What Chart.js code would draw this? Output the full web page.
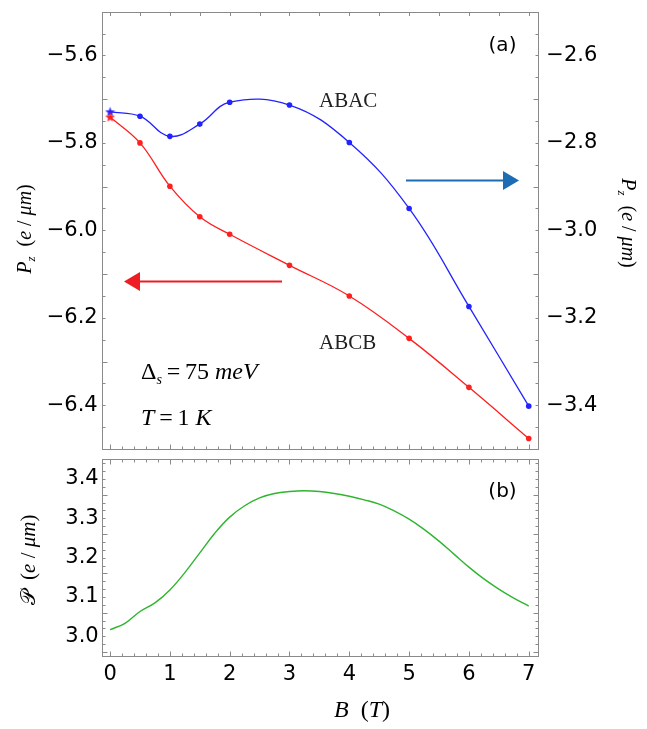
<!DOCTYPE html>
<html>
<head>
<meta charset="utf-8">
<script src="https://cdn.jsdelivr.net/npm/chart.js@4.4.1/dist/chart.umd.min.js"></script>
<style>
  html, body { margin: 0; padding: 0; background: #fff; }
  #wrap { position: relative; width: 647px; height: 729px; }
  canvas { position: absolute; left: 0; }
</style>
</head>
<body>
<div id="wrap">
  <canvas id="topChart" width="647" height="453" style="top:0"></canvas>
  <canvas id="bottomChart" width="647" height="276" style="top:453px"></canvas>
</div>
<script>
// magnetic field points where P_z was computed
const fieldB = [0, 0.5, 1, 1.5, 2, 3, 4, 5, 6, 7];
const pzABCB = [-5.741, -5.800, -5.899, -5.969, -6.009, -6.080, -6.150, -6.247, -6.359, -6.476];
const pzABAC = [-2.729, -2.739, -2.785, -2.757, -2.707, -2.7135, -2.799, -2.950, -3.174, -3.402];

// lower panel curve
const curveB = [0, 0.25, 0.5, 0.75, 1, 1.25, 1.5, 1.75, 2, 2.25, 2.5, 2.75, 3, 3.25, 3.5,
  3.75, 4, 4.25, 4.5, 4.75, 5, 5.25, 5.5, 5.75, 6, 6.25, 6.5, 6.75, 7];
const polTotal = [3.017, 3.033, 3.063, 3.085, 3.118, 3.162, 3.212, 3.262, 3.303, 3.332, 3.352,
  3.363, 3.368, 3.370, 3.368, 3.363, 3.356, 3.347, 3.336, 3.319, 3.298, 3.272, 3.242, 3.209,
  3.176, 3.146, 3.120, 3.097, 3.077];

const leftTicks = [-6.4, -6.2, -6.0, -5.8, -5.6];
const rightTicks = [-3.4, -3.2, -3.0, -2.8, -2.6];
const lowerTicks = [3.0, 3.1, 3.2, 3.3, 3.4];
const fieldTicks = [0, 1, 2, 3, 4, 5, 6, 7];

const RED = "#ff1f1f";
const BLUE = "#2323ff";
const GREEN = "#2fb52f";
const FRAME = "#8a8a8a";
const SERIF = '"Liberation Serif", "DejaVu Serif", serif';
const SANS = '"DejaVu Sans", "Liberation Sans", sans-serif';
const tickFont = { family: SANS, size: 21 };

function fmt(v) {
  return (v < 0 ? "\u2212" : "") + Math.abs(v).toFixed(1);
}

function starImage(color) {
  const c = document.createElement("canvas");
  c.width = 11;
  c.height = 11;
  const g = c.getContext("2d");
  g.fillStyle = color;
  g.beginPath();
  for (let i = 0; i < 10; i++) {
    const r = i % 2 ? 2.1 : 5.2;
    const a = -Math.PI / 2 + i * Math.PI / 5;
    g.lineTo(5.5 + r * Math.cos(a), 5.8 + r * Math.sin(a));
  }
  g.closePath();
  g.fill();
  return c;
}

function pts(xs, ys) {
  return xs.map((x, i) => ({ x: x, y: ys[i] }));
}

// fixed axis box, no extra room for edge labels
function fixWidth(w) {
  return (s) => { s.width = w; s.paddingTop = 0; s.paddingBottom = 0; };
}
function fixHeight(h) {
  return (s) => { s.height = h; s.paddingLeft = 0; s.paddingRight = 0; };
}

// tick list [value, length] with inward marks
function tickList(min, max, step, majorEvery, majorLen, minorLen) {
  const out = [];
  const n = Math.round((max - min) / step);
  for (let i = 0; i <= n; i++) {
    out.push([min + i * step, i % majorEvery === 0 ? majorLen : minorLen]);
  }
  return out;
}

function richText(ctx, parts, x, y, align) {
  let w = 0;
  parts.forEach((p) => { ctx.font = p[1]; w += ctx.measureText(p[0]).width; });
  let cx = align === "center" ? x - w / 2 : x;
  parts.forEach((p) => {
    ctx.font = p[1];
    ctx.fillText(p[0], cx, y + (p[2] || 0));
    cx += ctx.measureText(p[0]).width;
  });
}

function drawFrame(chart, spec) {
  const { ctx, chartArea: a, scales } = chart;
  ctx.save();
  ctx.strokeStyle = FRAME;
  ctx.lineWidth = 1;
  const L = Math.round(a.left) + 0.5, R = Math.round(a.right) + 0.5;
  const T = Math.round(a.top) + 0.5, B = Math.round(a.bottom) + 0.5;
  ctx.strokeRect(L, T, R - L, B - T);
  ctx.beginPath();
  spec.bottom.forEach(([v, len]) => {
    const p = Math.round(scales.x.getPixelForValue(v)) + 0.5;
    ctx.moveTo(p, B); ctx.lineTo(p, B - len);
  });
  spec.top.forEach(([v, len]) => {
    const p = Math.round(scales.x.getPixelForValue(v)) + 0.5;
    ctx.moveTo(p, T); ctx.lineTo(p, T + len);
  });
  spec.left.forEach(([v, len]) => {
    const p = Math.round(scales.y.getPixelForValue(v)) + 0.5;
    ctx.moveTo(L, p); ctx.lineTo(L + len, p);
  });
  spec.right.forEach(([v, len]) => {
    const p = Math.round(scales[spec.rightScale].getPixelForValue(v)) + 0.5;
    ctx.moveTo(R, p); ctx.lineTo(R - len, p);
  });
  ctx.stroke();
  ctx.restore();
}

function arrow(ctx, x1, x2, y, color) {
  const dir = Math.sign(x2 - x1);
  ctx.save();
  ctx.strokeStyle = color;
  ctx.fillStyle = color;
  ctx.lineWidth = 2;
  ctx.beginPath();
  ctx.moveTo(x1, y);
  ctx.lineTo(x2 - dir * 14, y);
  ctx.stroke();
  ctx.beginPath();
  ctx.moveTo(x2, y);
  ctx.lineTo(x2 - dir * 16, y - 9.5);
  ctx.lineTo(x2 - dir * 16, y + 9.5);
  ctx.closePath();
  ctx.fill();
  ctx.restore();
}

const topDecor = {
  id: "topDecor",
  afterDraw(chart) {
    drawFrame(chart, {
      bottom: tickList(0, 7, 0.2, 5, 5, 3),
      top: tickList(0, 7, 0.5, 1, 3.5, 3.5),
      left: tickList(-6.5, -5.5, 0.05, 4, 5, 3).filter((t) => t[0] > -6.49 && t[0] < -5.51),
      right: tickList(-3.5, -2.5, 0.05, 4, 5, 3).filter((t) => t[0] > -3.49 && t[0] < -2.51),
      rightScale: "y2",
    });
    const ctx = chart.ctx;
    ctx.save();
    ctx.fillStyle = "#000";
    ctx.textBaseline = "alphabetic";
    ctx.textAlign = "left";

    // axis titles
    const it = "italic 20px " + SERIF, up = "20px " + SERIF, sub = "italic 13px " + SERIF;
    const pz = [["P", it], ["z", sub, 4], ["  (", up], ["e", it], [" / ", up], ["\u03bcm", it], [")", up]];
    ctx.save();
    ctx.translate(24, 229);
    ctx.rotate(-Math.PI / 2);
    richText(ctx, pz, 0, 7, "center");
    ctx.restore();
    ctx.save();
    ctx.translate(629, 223);
    ctx.rotate(Math.PI / 2);
    richText(ctx, pz, 0, 7, "center");
    ctx.restore();

    // labels
    ctx.font = "20px " + SANS;
    ctx.textAlign = "center";
    ctx.textBaseline = "middle";
    ctx.fillText("(a)", 502.5, 46);
    ctx.textAlign = "left";
    ctx.textBaseline = "alphabetic";
    ctx.fillStyle = "#222";
    ctx.font = "21px " + SERIF;
    ctx.fillText("ABAC", 319, 106.5);
    ctx.fillText("ABCB", 319, 348.5);
    ctx.fillStyle = "#000";
    const big = "24px " + SERIF, bigIt = "italic 24px " + SERIF, small = "italic 14px " + SERIF;
    richText(ctx, [["\u0394", big], ["s", small, 5], ["\u2009=\u200975", big], [" meV", bigIt]], 141, 378.5, "left");
    richText(ctx, [["T", bigIt], ["\u2009=\u20091", big], [" K", bigIt]], 141, 425, "left");
    ctx.restore();

    arrow(ctx, 406, 519, 180.5, "#1e6db4");
    arrow(ctx, 282, 124, 281.5, "#ee1d25");
  },
};

const bottomDecor = {
  id: "bottomDecor",
  afterDraw(chart) {
    drawFrame(chart, {
      bottom: tickList(0, 7, 0.2, 5, 5, 3),
      top: tickList(0, 7, 0.2, 5, 5, 3),
      left: tickList(2.96, 3.44, 0.02, 5, 5, 3),
      right: tickList(2.96, 3.44, 0.02, 5, 5, 3),
      rightScale: "y",
    });
    const ctx = chart.ctx;
    ctx.save();
    ctx.fillStyle = "#000";
    ctx.font = "20px " + SANS;
    ctx.textAlign = "center";
    ctx.textBaseline = "middle";
    ctx.fillText("(b)", 502.5, 492 - 453);
    ctx.textAlign = "left";
    ctx.textBaseline = "alphabetic";

    const it = "italic 21px " + SERIF, up = "21px " + SERIF;
    ctx.save();
    ctx.translate(28, 560 - 453);
    ctx.rotate(-Math.PI / 2);
    richText(ctx, [["\ud835\udcab", up], ["  (", up], ["e", it], [" / ", up], ["\u03bcm", it], [")", up]], 0, 7, "center");
    ctx.restore();

    const bt = "italic 24px " + SERIF, bu = "24px " + SERIF;
    richText(ctx, [["B", bt], ["  (", bu], ["T", bt], [")", bu]], 362, 716.5 - 453, "center");
    ctx.restore();
  },
};

new Chart(document.getElementById("topChart"), {
  type: "line",
  data: {
    datasets: [
      {
        label: "ABCB",
        data: pts(fieldB, pzABCB),
        yAxisID: "y",
        borderColor: RED,
        backgroundColor: RED,
        borderWidth: 1.3,
        tension: 0.4,
        pointStyle: fieldB.map((b, i) => (i === 0 ? starImage(RED) : "circle")),
        pointRadius: 2.8,
        pointBorderWidth: 0,
      },
      {
        label: "ABAC",
        data: pts(fieldB, pzABAC),
        yAxisID: "y2",
        borderColor: BLUE,
        backgroundColor: BLUE,
        borderWidth: 1.3,
        tension: 0.4,
        pointStyle: fieldB.map((b, i) => (i === 0 ? starImage(BLUE) : "circle")),
        pointRadius: 2.8,
        pointBorderWidth: 0,
      },
    ],
  },
  options: {
    responsive: false,
    animation: false,
    devicePixelRatio: 1,
    layout: { padding: { top: 11.7, bottom: 1.3, left: 0, right: 0 } },
    plugins: { legend: { display: false }, tooltip: { enabled: false } },
    scales: {
      x: { type: "linear", min: -0.14, max: 7.16, display: false },
      y: {
        type: "linear",
        position: "left",
        min: -6.5,
        max: -5.5,
        afterBuildTicks: (s) => { s.ticks = leftTicks.map((v) => ({ value: v })); },
        afterFit: fixWidth(101.7),
        grid: { display: false, drawTicks: false },
        border: { display: false },
        ticks: { font: tickFont, color: "#000", padding: 4, callback: fmt },
      },
      y2: {
        type: "linear",
        position: "right",
        min: -3.5,
        max: -2.5,
        afterBuildTicks: (s) => { s.ticks = rightTicks.map((v) => ({ value: v })); },
        afterFit: fixWidth(108.7),
        grid: { display: false, drawTicks: false },
        border: { display: false },
        ticks: { font: tickFont, color: "#000", padding: 8, callback: fmt },
      },
    },
  },
  plugins: [topDecor],
});

new Chart(document.getElementById("bottomChart"), {
  type: "line",
  data: {
    datasets: [
      {
        label: "total",
        data: pts(curveB, polTotal),
        borderColor: GREEN,
        borderWidth: 1.4,
        tension: 0.4,
        pointRadius: 0,
      },
    ],
  },
  options: {
    responsive: false,
    animation: false,
    devicePixelRatio: 1,
    layout: { padding: { top: 6.3, bottom: 0, left: 0, right: 108.7 } },
    plugins: { legend: { display: false }, tooltip: { enabled: false } },
    scales: {
      x: {
        type: "linear",
        min: -0.14,
        max: 7.16,
        afterBuildTicks: (s) => { s.ticks = fieldTicks.map((v) => ({ value: v })); },
        afterFit: fixHeight(73),
        grid: { display: false, drawTicks: false },
        border: { display: false },
        ticks: { font: tickFont, color: "#000", padding: 6, maxRotation: 0, callback: (v) => String(v) },
      },
      y: {
        type: "linear",
        min: 2.95,
        max: 3.45,
        afterBuildTicks: (s) => { s.ticks = lowerTicks.map((v) => ({ value: v })); },
        afterFit: fixWidth(101.7),
        grid: { display: false, drawTicks: false },
        border: { display: false },
        ticks: { font: tickFont, color: "#000", padding: 3, callback: (v) => v.toFixed(1) },
      },
    },
  },
  plugins: [bottomDecor],
});
</script>
</body>
</html>
